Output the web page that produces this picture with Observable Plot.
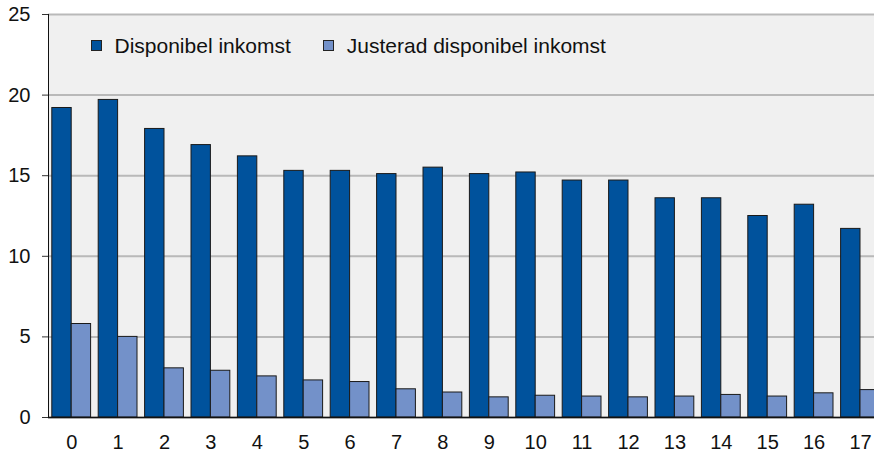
<!DOCTYPE html>
<html>
<head>
<meta charset="utf-8">
<script src="https://cdn.jsdelivr.net/npm/d3@7"></script>
<script src="https://cdn.jsdelivr.net/npm/@observablehq/plot@0.6"></script>
<style>
  html, body { margin: 0; padding: 0; background: white; }
  #wrap { position: relative; width: 874px; height: 456px; overflow: hidden; font-family: "Liberation Sans", Arial, sans-serif; }
  .leg { position: absolute; top: 35px; display: flex; align-items: center; font-size: 21px; line-height: 1; color: #111; white-space: nowrap; }
  .sw { width: 9px; height: 9px; border: 1px solid #222; margin-right: 12.5px; }
</style>
</head>
<body>
<div id="wrap"></div>
<script>
const categories = ["0","1","2","3","4","5","6","7","8","9","10","11","12","13","14","15","16","17"];
const disponibel = [19.2, 19.7, 17.9, 16.9, 16.2, 15.3, 15.3, 15.1, 15.5, 15.1, 15.2, 14.7, 14.7, 13.6, 13.6, 12.5, 13.2, 11.7];
const justerad   = [5.8, 5.0, 3.05, 2.9, 2.55, 2.3, 2.2, 1.75, 1.55, 1.25, 1.35, 1.3, 1.25, 1.3, 1.4, 1.3, 1.5, 1.7];
const seriesNames = ["Disponibel inkomst", "Justerad disponibel inkomst"];
const seriesColors = ["#00529c", "#7391c9"];
const yTicks = [0, 5, 10, 15, 20, 25];

const rows1 = categories.map((c, i) => ({cat: c, value: disponibel[i], series: seriesNames[0]}));
const rows2 = categories.map((c, i) => ({cat: c, value: justerad[i], series: seriesNames[1]}));

const chart = Plot.plot({
  width: 874,
  height: 456,
  marginTop: 14,
  marginBottom: 39,
  marginLeft: 48,
  marginRight: -9.2,
  style: {fontFamily: "'Liberation Sans', Arial, sans-serif", fontSize: "20px", color: "#111", background: "white", overflow: "hidden"},
  x: {type: "band", domain: categories, padding: 0, round: false, label: null},
  y: {domain: [0, 25], label: null},
  marks: [
    Plot.frame({fill: "#f0f0f0", stroke: null}),
    Plot.gridY(yTicks, {stroke: "#b9b9b9", strokeOpacity: 1, strokeWidth: 2}),
    Plot.barY(rows1, {x: "cat", y: "value", fill: seriesColors[0], stroke: "#1a1a1a", strokeWidth: 1, insetLeft: 3.8, insetRight: 23.2}),
    Plot.barY(rows2, {x: "cat", y: "value", fill: seriesColors[1], stroke: "#1a1a1a", strokeWidth: 1, insetLeft: 23.2, insetRight: 3.8}),
    Plot.axisY(yTicks, {tickSize: 6, tickPadding: 12, fontSize: 20, stroke: "#333"}),
    Plot.axisX({tickSize: 0, tickPadding: 17, fontSize: 20}),
    Plot.frame({anchor: "left", stroke: "#111", strokeWidth: 1}),
    Plot.ruleY([0], {stroke: "#111", strokeWidth: 1.5})
  ]
});

const wrap = document.getElementById("wrap");
wrap.appendChild(chart);

const legendLefts = [91, 323.3];
seriesNames.forEach((name, i) => {
  const item = document.createElement("div");
  item.className = "leg";
  item.style.left = legendLefts[i] + "px";
  const sw = document.createElement("span");
  sw.className = "sw";
  sw.style.background = seriesColors[i];
  const tx = document.createElement("span");
  tx.textContent = name;
  item.appendChild(sw);
  item.appendChild(tx);
  wrap.appendChild(item);
});
</script>
</body>
</html>
